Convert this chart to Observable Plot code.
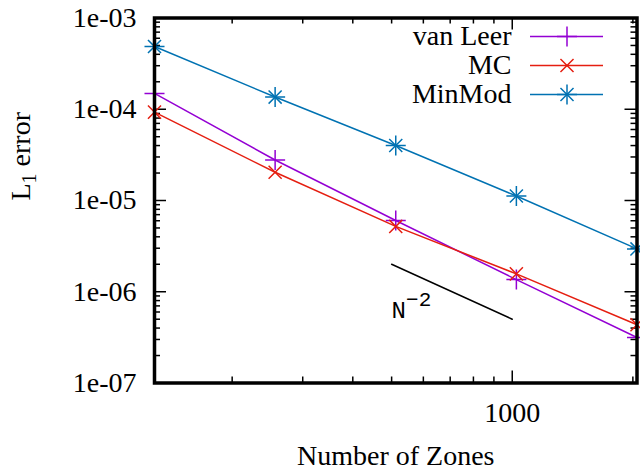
<!DOCTYPE html>
<html><head><meta charset="utf-8">
<script src="https://cdn.jsdelivr.net/npm/d3@7"></script>
<script src="https://cdn.jsdelivr.net/npm/@observablehq/plot@0.6"></script>
<style>
html,body{margin:0;padding:0;background:#fff;}
#chart{position:relative;width:640px;height:471px;overflow:hidden;}
#chart svg{position:absolute;left:0;top:0;}
</style></head><body><div id="chart"></div>
<script>
// ---- data ----
const zones = [128, 256, 512, 1024, 2048];
const vanLeer = [1.49e-4, 2.78e-5, 6.04e-6, 1.36e-6, 3.15e-7];
const mc = [9.3e-5, 2.04e-5, 5.2e-6, 1.57e-6, 4.35e-7];
const minMod = [4.87e-4, 1.36e-4, 4.0e-5, 1.12e-5, 2.95e-6];
const seriesNames = ["van Leer", "MC", "MinMod"];
const seriesColors = ["#9400D3", "#E51E10", "#0072B2"];
const yTicks = [1e-7, 1e-6, 1e-5, 1e-4, 1e-3];
const yTickLabels = ["1e-07", "1e-06", "1e-05", "1e-04", "1e-03"];
const xTicks = [1000];
const xTickLabels = ["1000"];
const refX = [500, 1000];
const refY = [2e-6, 5e-7];
const refLabelX = [500];
const refLabelY = [6.3e-7];
const refLabelText = ["N-2"];
const xLabel = "Number of Zones";
const yLabel = "L1 error";

// minor ticks
const yMinor = [];
for (let e = -7; e < -3; e++) for (let k = 2; k <= 9; k++) yMinor.push(k * Math.pow(10, e));
const xMinor = [200, 300, 400, 500, 600, 700, 800, 900, 2000];

// ---- layout ----
const W = 640, H = 471, mL = 154, mR = 3.5, mT = 17.5, mB = 88.5;
const iw = W - mL - mR, ih = H - mT - mB;
const SERIF = "'Liberation Serif', 'Times New Roman', serif";
const MONO = "'Liberation Mono', 'Courier New', monospace";
const majorLen = 12, minorLen = 6;

const seriesData = [vanLeer, mc, minMod];
const rows = seriesNames.flatMap((s, j) => zones.map((z, i) => ({zone: z, err: seriesData[j][i], series: s})));
const ref = refX.map((x, i) => ({x, y: refY[i]}));
const refLbl = refLabelX.map((x, i) => ({x, y: refLabelY[i], t: refLabelText[i]}));

const sym = {"van Leer": ["plus"], "MC": ["times"], "MinMod": ["plus", "times"]};
const symR = {plus: 6.5, times: 6};
const dotMarks = [];
for (const s of seriesNames) for (const sy of sym[s]) {
  dotMarks.push(Plot.dot(rows.filter(d => d.series === s), {x: "zone", y: "err", stroke: "series", symbol: () => sy, r: symR[sy], strokeWidth: 1.5}));
}

const tk = {stroke: "black", strokeWidth: 1.5};
const main = Plot.plot({
  width: W, height: H,
  marginLeft: mL, marginRight: mR, marginTop: mT, marginBottom: mB,
  style: {background: "white", fontFamily: SERIF, fontSize: "28px", color: "black", overflow: "visible"},
  x: {type: "log", domain: [128, 2048], axis: null},
  y: {type: "log", domain: [1e-7, 1e-3], axis: null},
  color: {domain: seriesNames, range: seriesColors},
  symbol: {domain: ["plus", "times"], range: ["plus", "times"]},
  marks: [
    // ticks (inward, mirrored)
    Plot.tickY(yTicks, {y: d => d, insetRight: iw - majorLen, ...tk}),
    Plot.tickY(yTicks, {y: d => d, insetLeft: iw - majorLen, ...tk}),
    Plot.tickY(yMinor, {y: d => d, insetRight: iw - minorLen, ...tk}),
    Plot.tickY(yMinor, {y: d => d, insetLeft: iw - minorLen, ...tk}),
    Plot.tickX(xTicks, {x: d => d, insetTop: ih - majorLen, ...tk}),
    Plot.tickX(xTicks, {x: d => d, insetBottom: ih - majorLen, ...tk}),
    Plot.tickX(xMinor, {x: d => d, insetTop: ih - minorLen, ...tk}),
    Plot.tickX(xMinor, {x: d => d, insetBottom: ih - minorLen, ...tk}),
    // data
    Plot.line(rows, {x: "zone", y: "err", z: "series", stroke: "series", strokeWidth: 1.5}),
    ...dotMarks,
    // reference slope
    Plot.line(ref, {x: "x", y: "y", stroke: "black", strokeWidth: 1.5}),
    Plot.text(refLbl, {x: "x", y: "y", text: "t", textAnchor: "start", lineAnchor: "middle", fontFamily: MONO, fontSize: 24, fill: "black"}),
    Plot.frame({stroke: "black", strokeWidth: 3.5}),
    // tick labels
    Plot.text(yTicks, {y: d => d, text: (d, i) => yTickLabels[i], frameAnchor: "left", dx: -18, textAnchor: "end", lineAnchor: "middle", fill: "black"}),
    Plot.text(xTicks, {x: d => d, text: (d, i) => xTickLabels[i], frameAnchor: "bottom", dy: 30, lineAnchor: "middle", fill: "black"}),
    // axis labels
    Plot.text([xLabel], {text: d => d, frameAnchor: "bottom", dy: 73.5, lineAnchor: "middle", fill: "black"}),
    Plot.text([yLabel], {text: d => d, frameAnchor: "left", dx: -133, rotate: -90, lineAnchor: "middle", fill: "black"})
  ]
});

// legend overlay, drawn through its own scales
const legDots = [];
for (const s of seriesNames) for (const sy of sym[s]) {
  legDots.push(Plot.dot([s], {x: () => 0.5, y: d => d, stroke: d => d, symbol: () => sy, r: symR[sy], strokeWidth: 1.5}));
}
const legend = Plot.plot({
  width: W, height: H, margin: 0,
  style: {background: "transparent", fontFamily: SERIF, fontSize: "28px", color: "black"},
  x: {type: "linear", domain: [0, 1], range: [530, 603], axis: null},
  y: {type: "point", domain: seriesNames, range: [36, 94], padding: 0, axis: null},
  color: {domain: seriesNames, range: seriesColors},
  symbol: {domain: ["plus", "times"], range: ["plus", "times"]},
  marks: [
    Plot.ruleY(seriesNames, {y: d => d, x1: 0, x2: 1, stroke: d => d, strokeWidth: 1.5}),
    ...legDots,
    Plot.text(seriesNames, {x: () => 0, y: d => d, dx: -19, text: d => d, textAnchor: "end", lineAnchor: "middle", fill: "black"})
  ]
});

const host = document.getElementById("chart");
host.appendChild(main);
legend.style.pointerEvents = "none";
host.appendChild(legend);

// rich text: subscript / superscript
const NS = "http://www.w3.org/2000/svg";
function ts(txt, attrs) {
  const t = document.createElementNS(NS, "tspan");
  t.textContent = txt;
  for (const k in attrs) t.setAttribute(k, attrs[k]);
  return t;
}
for (const el of main.querySelectorAll("text")) {
  const c = el.textContent;
  if (c === yLabel) {
    el.textContent = "";
    el.appendChild(ts("L", {}));
    el.appendChild(ts("1", {"font-size": "20px", dy: "6"}));
    el.appendChild(ts(" error", {dy: "-6"}));
  } else if (c === "N-2") {
    el.textContent = "";
    el.appendChild(ts("N", {}));
    el.appendChild(ts("\u22122", {"font-size": "21px", dy: "-12"}));
  }
}
</script></body></html>
